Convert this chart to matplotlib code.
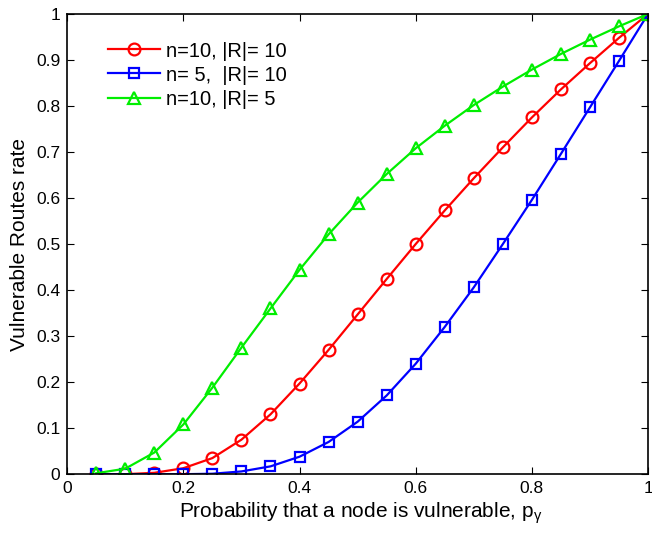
import matplotlib
matplotlib.use("Agg")
import matplotlib.pyplot as plt

plt.rcParams["font.family"] = ["Liberation Sans", "DejaVu Sans"]
plt.rcParams["mathtext.fontset"] = "custom"
plt.rcParams["mathtext.rm"] = "Liberation Sans"
plt.rcParams["mathtext.it"] = "Liberation Sans"

p = [0.05, 0.10, 0.15, 0.20, 0.25, 0.30, 0.35, 0.40, 0.45, 0.50,
     0.55, 0.60, 0.65, 0.70, 0.75, 0.80, 0.85, 0.90, 0.95, 1.00]

n10_r10 = [0.000, 0.000, 0.003, 0.013, 0.035, 0.075, 0.130, 0.197, 0.270, 0.347,
           0.424, 0.500, 0.573, 0.643, 0.710, 0.775, 0.836, 0.893, 0.948, 1.000]
n5_r10 = [0.000, 0.000, 0.000, 0.000, 0.001, 0.006, 0.017, 0.038, 0.070, 0.114,
          0.171, 0.240, 0.320, 0.406, 0.500, 0.596, 0.696, 0.797, 0.898, 1.000]
n10_r5 = [0.002, 0.012, 0.047, 0.108, 0.188, 0.275, 0.360, 0.444, 0.521, 0.590,
          0.652, 0.708, 0.757, 0.802, 0.842, 0.879, 0.913, 0.944, 0.973, 1.000]

labels = ["n=10, |R|= 10", "n= 5,  |R|= 10", "n=10, |R|= 5"]

fig = plt.figure(figsize=(6.52, 5.34), dpi=100)
ax = fig.add_axes([0.103, 0.112, 0.891, 0.862])

ax.plot(p, n10_r10, color="#ff0000", marker="o", markersize=8.5, mfc="none",
        mew=1.6, lw=1.6, label=labels[0])
ax.plot(p, n5_r10, color="#0000ff", marker="s", markersize=6.5, mfc="none",
        mew=1.6, lw=1.6, label=labels[1])
ax.plot(p, n10_r5, color="#00ee00", marker="^", markersize=8.5, mfc="none",
        mew=1.6, lw=1.6, label=labels[2])

ax.set_xlim(0, 1)
ax.set_ylim(0, 1)
ax.set_xticks([0, 0.2, 0.4, 0.6, 0.8, 1])
ax.set_xticklabels(["0", "0.2", "0.4", "0.6", "0.8", "1"])
ax.set_yticks([i / 10 for i in range(11)])
ax.set_yticklabels(["0"] + [f"{i / 10:.1f}" for i in range(1, 10)] + ["1"])
ax.tick_params(direction="in", top=True, right=True, labelsize=12.5, length=5, pad=5)
for s in ax.spines.values():
    s.set_linewidth(1.2)

ax.set_xlabel(r"Probability that a node is vulnerable, p$_\gamma$", fontsize=15)
ax.xaxis.set_label_coords(0.505, -0.058)
ax.set_ylabel("Vulnerable Routes rate", fontsize=15, va="center")
ax.yaxis.set_label_coords(-0.082, 0.5)

# legend sits inside the axes, no frame, like the matlab figure
ax.legend(loc="upper left", bbox_to_anchor=(0.07, 0.94), frameon=False,
          borderaxespad=0, borderpad=0, fontsize=14.5, handlelength=2.6,
          handletextpad=0.3, labelspacing=0.25)

plt.savefig("out.png", dpi=100)
